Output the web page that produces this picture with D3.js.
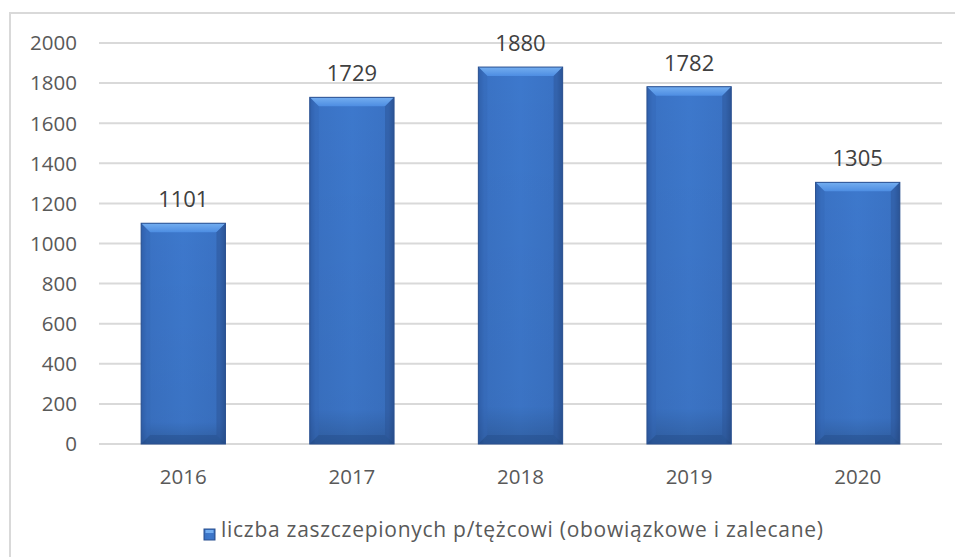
<!DOCTYPE html>
<html><head><meta charset="utf-8">
<script src="https://cdn.jsdelivr.net/npm/d3@7"></script>
<style>body{margin:0;background:#fff;}svg{display:block;}</style>
</head><body>
<script>
const categories = ["2016","2017","2018","2019","2020"];
const values = [1101,1729,1880,1782,1305];
const yTicks = [0,200,400,600,800,1000,1200,1400,1600,1800,2000];
const seriesName = "liczba zaszczepionych p/tężcowi (obowiązkowe i zalecane)";

const W=955,H=557;
const svg=d3.select("body").append("svg").attr("width",W).attr("height",H);
const font="'Open Sans', sans-serif";
const defs=svg.append("defs");
const gH=defs.append("linearGradient").attr("id","gh").attr("x1",0).attr("x2",1).attr("y1",0).attr("y2",0);
[[0,"#2d5ca6"],[0.07,"#3a72c4"],[0.5,"#3d78cc"],[0.93,"#3a72c4"],[1,"#2a5597"]].forEach(s=>gH.append("stop").attr("offset",s[0]).attr("stop-color",s[1]));
const gV=defs.append("linearGradient").attr("id","gv").attr("x1",0).attr("x2",0).attr("y1",0).attr("y2",1);
[[0,"#000",0],[0.9,"#000",0.04],[1,"#000",0.2]].forEach(s=>gV.append("stop").attr("offset",s[0]).attr("stop-color",s[1]).attr("stop-opacity",s[2]));
const gT=defs.append("linearGradient").attr("id","gt").attr("x1",0).attr("x2",0).attr("y1",0).attr("y2",1);
[[0,"#74aef0"],[1,"#4d8de2"]].forEach(s=>gT.append("stop").attr("offset",s[0]).attr("stop-color",s[1]));

// border
svg.append("rect").attr("x",10).attr("y",13).attr("width",W+5).attr("height",H+5).attr("fill","none").attr("stroke","#d9d9d9").attr("stroke-width",2);

const x=d3.scaleBand().domain(categories).range([99,942]).paddingInner(0.5).paddingOuter(0.25);
const y=d3.scaleLinear().domain([0,2000]).range([444,43]);

// gridlines
svg.append("g").selectAll("line").data(yTicks).join("line")
 .attr("x1",99).attr("x2",942).attr("y1",d=>y(d)).attr("y2",d=>y(d))
 .attr("stroke","#d9d9d9").attr("stroke-width",2);

// y axis labels
svg.append("g").selectAll("text").data(yTicks).join("text")
 .attr("x",77).attr("y",d=>y(d)).attr("dy","0.36em").attr("text-anchor","end")
 .attr("font-family",font).attr("font-size",20.5).attr("fill","#595959").text(d=>d);

// bars
const bars=svg.append("g").selectAll("g").data(values).join("g");
const bw=x.bandwidth();
bars.append("rect").attr("x",(d,i)=>x(categories[i])).attr("y",d=>y(d)).attr("width",bw).attr("height",d=>y(0)-y(d)).attr("fill","url(#gh)");
bars.append("rect").attr("x",(d,i)=>x(categories[i])).attr("y",d=>y(d)).attr("width",bw).attr("height",d=>y(0)-y(d)).attr("fill","url(#gv)");
const bev=9;
bars.append("path").attr("d",(d,i)=>{const x0=x(categories[i]),x1=x0+bw,t=y(d);return `M${x0},${t}L${x1},${t}L${x1-bev},${t+bev}L${x0+bev},${t+bev}Z`;}).attr("fill","url(#gt)");
bars.append("path").attr("d",(d,i)=>{const x0=x(categories[i]),t=y(d),b=y(0);return `M${x0},${t}L${x0+bev},${t+bev}L${x0+bev},${b-bev}L${x0},${b}Z`;}).attr("fill","#3466b3").attr("opacity",0.4);
bars.append("path").attr("d",(d,i)=>{const x1=x(categories[i])+bw,t=y(d),b=y(0);return `M${x1},${t}L${x1-bev},${t+bev}L${x1-bev},${b-bev}L${x1},${b}Z`;}).attr("fill","#2b5496").attr("opacity",0.5);
bars.append("path").attr("d",(d,i)=>{const x0=x(categories[i]),x1=x0+bw,b=y(0);return `M${x0},${b}L${x0+bev},${b-bev}L${x1-bev},${b-bev}L${x1},${b}Z`;}).attr("fill","#244a86").attr("opacity",0.4);
bars.append("rect").attr("x",(d,i)=>x(categories[i])).attr("y",d=>y(d)).attr("width",bw).attr("height",d=>y(0)-y(d)).attr("fill","none").attr("stroke","#2a5090").attr("stroke-width",1);

// value labels
svg.append("g").selectAll("text").data(values).join("text")
 .attr("x",(d,i)=>x(categories[i])+bw/2).attr("y",d=>y(d)-16).attr("text-anchor","middle")
 .attr("font-family",font).attr("font-size",22).attr("fill","#404040").text(d=>d);

// x labels
svg.append("g").selectAll("text").data(categories).join("text")
 .attr("x",d=>x(d)+bw/2).attr("y",477).attr("dy","0.36em").attr("text-anchor","middle")
 .attr("font-family",font).attr("font-size",20.5).attr("fill","#595959").text(d=>d);

// legend
const lg=svg.append("g");
lg.append("rect").attr("x",204).attr("y",529).attr("width",11).attr("height",11).attr("fill","url(#gh)").attr("stroke","#2a5090");
lg.append("rect").attr("x",205.5).attr("y",530).attr("width",8).attr("height",3).attr("fill","#74aef0");
lg.append("text").attr("x",221).attr("y",537).attr("font-family",font).attr("font-size",21)
 .attr("textLength",602).attr("lengthAdjust","spacing").attr("fill","#595959").text(seriesName);
</script>
</body></html>
